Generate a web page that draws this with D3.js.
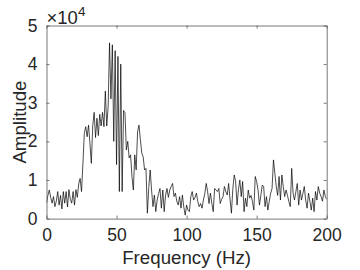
<!DOCTYPE html>
<html>
<head>
<meta charset="utf-8">
<script src="https://cdn.jsdelivr.net/npm/d3@7"></script>
<style>
    body { margin: 0; background: #fff; }
    svg { display: block; font-family: "Liberation Sans", Arial, sans-serif; }
</style>
</head>
<body>
<svg width="360" height="270"></svg>
<script>
// amplitude spectrum, one value per Hz from 0 to 200, in thousands
var amplitude = [
    4.0, 6.0, 7.4, 5.5, 4.0, 5.7, 3.1, 4.5, 7.0, 3.5,
    6.0, 2.5, 7.0, 4.0, 7.0, 3.0, 7.5, 5.0, 4.0, 7.0,
    3.5, 7.5, 5.5, 9.0, 10.4, 7.0, 14.3, 22.1, 23.8, 21.2,
    24.2, 19.5, 14.3, 24.0, 27.5, 21.0, 26.0, 21.5, 27.0, 24.0,
    27.5, 23.8, 33.0, 24.0, 29.0, 45.5, 31.0, 45.0, 20.0, 43.5,
    14.0, 42.0, 7.0, 40.0, 7.0, 28.0, 27.4, 17.8, 20.0, 15.7,
    16.5, 10.9, 7.4, 16.5, 12.6, 22.5, 24.2, 20.5, 17.0, 16.0,
    12.6, 13.0, 1.4, 8.0, 12.6, 7.4, 3.1, 6.1, 1.8, 4.8,
    6.5, 7.8, 2.7, 7.4, 1.8, 6.1, 7.8, 5.5, 7.4, 8.3,
    9.1, 5.7, 6.6, 4.5, 3.5, 5.7, 2.7, 6.1, 3.0, 0.9,
    3.5, 2.2, 1.8, 5.7, 7.0, 4.8, 5.5, 6.6, 4.4, 3.1,
    3.9, 2.7, 4.8, 6.5, 9.1, 7.0, 3.9, 6.6, 4.0, 1.8,
    7.8, 7.4, 7.0, 7.8, 3.9, 5.0, 5.7, 8.3, 7.0, 6.1,
    9.1, 5.0, 1.4, 7.8, 11.3, 9.6, 3.5, 7.5, 10.0, 5.7,
    9.6, 1.8, 5.3, 3.1, 7.4, 5.3, 6.0, 4.4, 2.2, 10.9,
    9.6, 7.4, 3.5, 6.0, 8.7, 8.3, 3.1, 5.7, 2.2, 4.5,
    6.6, 7.8, 15.2, 11.7, 8.3, 6.0, 10.9, 4.8, 11.3, 8.3,
    5.7, 7.4, 6.0, 4.4, 3.1, 13.0, 6.6, 4.8, 7.0, 9.1,
    3.5, 7.4, 4.8, 6.5, 8.3, 4.8, 2.7, 6.6, 4.5, 2.2,
    5.3, 1.8, 7.0, 4.8, 8.3, 6.6, 5.7, 4.5, 7.4, 5.7,
    5.0
];
var xTicks = [0, 50, 100, 150, 200];
var yTicks = [0, 1, 2, 3, 4, 5];   // x 10^4

var svg = d3.select("svg");
var margin = {left: 46.5, right: 33.3, top: 25.5, bottom: 51.4};
var width = +svg.attr("width") - margin.left - margin.right;
var height = +svg.attr("height") - margin.top - margin.bottom;
var ink = "#262626";
var frame = "#555";

var x = d3.scaleLinear().domain([0, 200]).range([0, width]);
var y = d3.scaleLinear().domain([0, 5]).range([height, 0]);

var g = svg.append("g")
    .attr("transform", "translate(" + margin.left + "," + margin.top + ")");

// data line, clipped to the axes box
svg.append("clipPath").attr("id", "box")
    .append("rect").attr("width", width).attr("height", height);

var line = d3.line()
    .x(function(d, i) { return x(i); })
    .y(function(d) { return y(d / 10); });

g.append("path")
    .datum(amplitude)
    .attr("clip-path", "url(#box)")
    .attr("fill", "none")
    .attr("stroke", "#000")
    .attr("stroke-width", 0.7)
    .attr("stroke-linejoin", "round")
    .attr("d", line);

// matlab style box with inward ticks on all four sides
var styleAxis = function(sel) {
    sel.select(".domain").attr("stroke", frame).attr("stroke-width", 0.8);
    sel.selectAll(".tick line").attr("stroke", frame).attr("stroke-width", 0.8);
    sel.selectAll(".tick text").attr("fill", ink).attr("font-size", 17.5)
        .attr("font-family", "Liberation Sans, Arial, sans-serif");
};

g.append("g")
    .attr("transform", "translate(0," + height + ")")
    .call(d3.axisBottom(x).tickValues(xTicks).tickSizeInner(-3).tickSizeOuter(0).tickPadding(10))
    .call(styleAxis);

g.append("g")
    .call(d3.axisTop(x).tickValues(xTicks).tickSizeInner(-3).tickSizeOuter(0).tickFormat(""))
    .call(styleAxis);

g.append("g")
    .call(d3.axisLeft(y).tickValues(yTicks).tickFormat(d3.format("d"))
        .tickSizeInner(-3).tickSizeOuter(0).tickPadding(9))
    .call(styleAxis);

g.append("g")
    .attr("transform", "translate(" + width + ",0)")
    .call(d3.axisRight(y).tickValues(yTicks).tickSizeInner(-3).tickSizeOuter(0).tickFormat(""))
    .call(styleAxis);

// exponent label
var expo = g.append("text")
    .attr("x", 0)
    .attr("y", -2)
    .attr("fill", ink)
    .attr("font-size", 18.5);
expo.append("tspan").text("\u00d710");
expo.append("tspan")
    .attr("dy", -8)
    .attr("font-size", 13.5)
    .text("4");

// axis titles
g.append("text")
    .attr("x", width / 2)
    .attr("y", height + 45)
    .attr("text-anchor", "middle")
    .attr("fill", ink)
    .attr("font-size", 18.7)
    .text("Frequency (Hz)");

g.append("text")
    .attr("transform", "translate(-21," + (height / 2) + ") rotate(-90)")
    .attr("text-anchor", "middle")
    .attr("fill", ink)
    .attr("font-size", 18.7)
    .text("Amplitude");
</script>
</body>
</html>
